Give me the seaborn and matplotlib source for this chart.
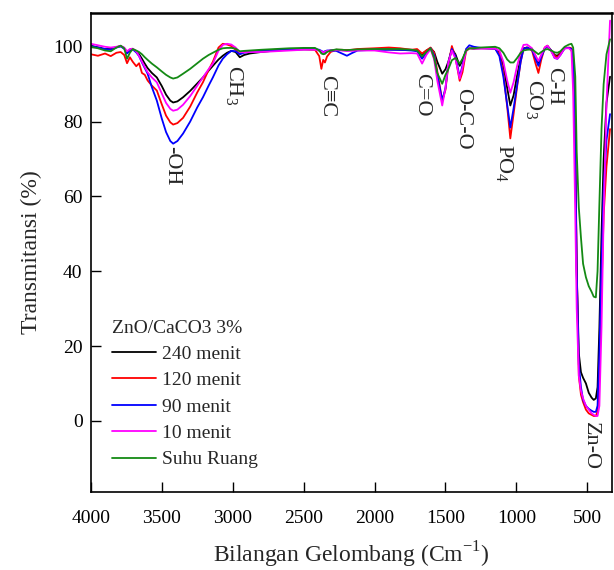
import numpy as np
import pandas as pd
import seaborn as sns
import matplotlib.pyplot as plt

# wavenumber points (cm-1)
wn = [4000, 3950, 3900, 3860, 3820, 3790, 3765, 3745, 3725, 3705, 3680, 3660,
      3640, 3620, 3600, 3570, 3535, 3500, 3470, 3440, 3420, 3390, 3350, 3300,
      3250, 3210, 3170, 3140, 3100, 3070, 3040, 3010, 2980, 2950, 2920, 2880,
      2800, 2700, 2600, 2500, 2420, 2390, 2375, 2362, 2350, 2335, 2310, 2270,
      2230, 2195, 2160, 2120, 2000, 1900, 1820, 1740, 1700, 1665, 1635, 1605,
      1580, 1558, 1523, 1500, 1480, 1455, 1430, 1400, 1380, 1355, 1332, 1300,
      1250, 1150, 1120, 1092, 1065, 1043, 1020, 995, 970, 950, 925, 890,
      865, 845, 825, 800, 782, 755, 730, 711, 690, 660, 630, 612,
      600, 585, 575, 560, 545, 530, 510, 490, 470, 455, 440, 428,
      415, 400, 385, 365, 340]

t_240 = [100.3, 99.8, 99.4, 99.4, 99.9, 100.2, 99.6, 98.5, 99.2, 99.4, 98.8, 98.0,
         96.8, 95.5, 94.3, 93.0, 91.8, 89.5, 87.2, 85.6, 85.1, 85.4, 86.5, 88.2,
         90.2, 91.8, 93.6, 94.9, 96.6, 97.6, 98.4, 98.9, 98.6, 97.2, 97.8, 98.2,
         98.6, 99.0, 99.2, 99.3, 99.3, 99.0, 98.6, 98.4, 98.6, 98.8, 99.0, 99.2,
         99.1, 99.0, 99.1, 99.2, 99.3, 99.3, 99.2, 99.2, 99.0, 98.0, 99.0, 99.6,
         98.6, 96.0, 92.8, 94.0, 96.0, 99.4, 98.0, 94.9, 96.4, 99.0, 99.6, 99.5,
         99.6, 99.5, 98.5, 95.0, 89.0, 84.3, 87.0, 92.3, 97.0, 99.6, 99.8, 99.2,
         97.5, 95.7, 97.6, 99.6, 100.2, 99.0, 97.8, 97.6, 98.4, 99.6, 99.7, 99.4,
         96.0, 70.0, 40.0, 18.0, 13.0, 11.5, 10.0, 7.5, 6.2, 5.6, 6.0, 9.0,
         25.0, 50.0, 70.0, 85.0, 92.0]

t_120 = [98.0, 97.6, 98.2, 97.5, 98.4, 98.6, 97.8, 95.6, 97.2, 96.0, 94.8, 95.6,
         93.0, 92.5, 91.0, 89.6, 88.3, 84.6, 81.6, 79.8, 79.2, 79.6, 81.0, 84.0,
         87.8, 90.5, 93.8, 96.0, 99.8, 100.8, 100.6, 100.2, 99.2, 98.4, 98.6, 98.8,
         99.0, 99.2, 99.4, 99.4, 99.2, 97.5, 94.1, 96.5, 95.8, 97.4, 98.6, 99.2,
         99.2, 99.1, 99.2, 99.4, 99.6, 99.8, 99.6, 99.2, 99.4, 98.2, 99.0, 99.8,
         98.4, 93.5, 85.6, 88.5, 95.0, 100.2, 97.2, 90.9, 93.2, 98.8, 99.6, 99.6,
         99.7, 99.6, 98.0, 93.0, 84.0, 75.5, 82.0, 89.4, 96.0, 99.4, 99.8, 99.0,
         95.5, 93.0, 96.5, 99.8, 100.3, 99.0, 97.6, 97.2, 98.2, 99.6, 99.8, 99.6,
         98.0, 75.0, 42.0, 12.0, 7.0, 5.0, 3.0, 2.0, 1.6, 1.3, 1.3, 2.5,
         12.0, 35.0, 55.0, 68.0, 78.0]

t_90 = [100.2, 99.8, 99.4, 99.2, 99.8, 100.1, 99.5, 98.2, 99.0, 99.3, 98.5, 97.5,
        95.8, 94.3, 92.8, 89.2, 85.6, 80.8, 77.2, 74.8, 74.1, 74.8, 76.8, 80.0,
        83.8, 86.5, 89.6, 91.8, 95.0, 96.8, 98.0, 98.9, 98.8, 98.0, 98.4, 98.6,
        98.9, 99.1, 99.3, 99.4, 99.4, 99.2, 98.9, 98.6, 98.8, 99.0, 99.0, 98.9,
        98.2, 97.6, 98.3, 99.0, 99.2, 99.2, 99.2, 99.0, 98.8, 96.8, 98.4, 99.6,
        97.6, 92.5, 85.6, 89.0, 95.6, 99.4, 97.4, 92.0, 95.0, 99.4, 100.4, 100.0,
        99.7, 99.5, 97.5, 92.0, 84.5, 78.4, 83.5, 89.8, 96.0, 99.4, 99.8, 99.2,
        96.8, 94.9, 97.2, 99.5, 100.2, 99.0, 97.0, 96.8, 97.8, 99.6, 99.7, 99.4,
        97.0, 72.0, 40.0, 15.0, 9.0, 5.6, 4.0, 3.2, 2.7, 2.4, 2.4, 4.0,
        18.0, 42.0, 62.0, 75.0, 82.0]

t_10 = [100.8, 100.4, 100.0, 99.8, 100.0, 100.2, 99.8, 98.8, 99.4, 99.5, 98.8, 97.5,
        96.0, 94.6, 93.2, 91.8, 90.5, 87.5, 85.0, 83.4, 82.9, 83.2, 84.5, 86.8,
        89.6, 91.8, 94.0, 95.5, 99.0, 100.5, 100.8, 100.6, 99.8, 98.6, 98.5, 98.6,
        98.6, 98.8, 99.0, 99.2, 99.2, 99.0, 98.8, 98.5, 98.7, 98.9, 99.0, 99.1,
        99.0, 98.9, 98.9, 99.0, 99.0, 98.5, 98.2, 98.3, 98.2, 95.5, 97.8, 99.4,
        96.6, 91.0, 84.3, 89.0, 95.8, 99.0, 96.8, 91.5, 94.5, 99.0, 99.7, 99.5,
        99.5, 99.5, 99.0, 96.0, 91.0, 87.7, 90.5, 94.9, 98.5, 100.5, 100.6, 99.6,
        97.6, 96.2, 97.8, 99.8, 100.3, 98.8, 97.0, 96.8, 97.8, 99.6, 99.6, 99.0,
        88.0, 55.0, 30.0, 12.0, 8.0, 6.0, 4.0, 3.0, 2.0, 1.6, 1.3, 1.3,
        4.0, 25.0, 55.0, 85.0, 107.0]

t_rt = [100.0, 99.6, 99.0, 98.8, 99.8, 100.3, 99.6, 96.8, 98.4, 99.4, 99.0, 98.6,
        98.0, 97.2, 96.5, 95.5, 94.5, 93.4, 92.5, 91.8, 91.5, 91.8, 92.8, 94.1,
        95.6, 96.8, 97.8, 98.4, 99.2, 99.6, 99.7, 99.7, 99.5, 98.8, 98.9, 99.0,
        99.2, 99.4, 99.6, 99.7, 99.7, 99.0, 98.2, 98.0, 98.1, 98.6, 99.0, 99.3,
        99.2, 99.1, 99.2, 99.3, 99.4, 99.4, 99.4, 99.2, 99.0, 97.4, 98.6, 99.6,
        97.0, 93.0, 90.1, 92.5, 94.0, 96.4, 97.0, 95.5, 96.8, 99.0, 99.6, 99.6,
        99.8, 100.0, 99.6, 98.4, 96.6, 95.8, 95.8, 97.0, 98.4, 99.0, 99.2, 99.3,
        98.6, 98.0, 98.6, 99.2, 99.4, 99.0, 98.5, 98.4, 98.8, 100.0, 100.6, 100.8,
        99.8, 92.0, 72.0, 57.0, 49.0, 42.0, 38.4, 36.0, 34.5, 33.2, 33.0, 40.0,
        58.0, 78.0, 90.0, 98.0, 102.0]

series = ["240 menit", "120 menit", "90 menit", "10 menit", "Suhu Ruang"]
colors = ["black", "#ff0000", "#0000ff", "#ff00ff", "#148a14"]

df = pd.DataFrame({"wn": wn * 5,
                   "T": t_240 + t_120 + t_90 + t_10 + t_rt,
                   "sampel": np.repeat(series, len(wn))})

sns.set_style("ticks")
plt.rcParams["font.family"] = ["Liberation Serif", "DejaVu Serif"]
plt.rcParams["mathtext.fontset"] = "custom"
plt.rcParams["mathtext.rm"] = "Liberation Serif"

fig = plt.figure(figsize=(6.14, 5.70), dpi=100)
ax = fig.add_axes([0.148, 0.137, 0.849, 0.840])

sns.lineplot(data=df, x="wn", y="T", hue="sampel", hue_order=series,
             palette=dict(zip(series, colors)), sort=False, estimator=None,
             linewidth=1.3, ax=ax)

ax.set_xlim(4000, 325)
ax.set_ylim(-19, 109)
ax.set_xticks([4000, 3500, 3000, 2500, 2000, 1500, 1000, 500])
ax.set_yticks([0, 20, 40, 60, 80, 100])
ax.tick_params(direction="in", length=7, width=1, labelsize=14, colors="black")
ax.tick_params(axis="x", pad=13)
ax.tick_params(axis="y", pad=6)
for s in ax.spines.values():
    s.set_linewidth(1.2)
    s.set_color("black")
ax.spines["top"].set_linewidth(1.8)

ax.set_xlabel(r"Bilangan Gelombang (Cm$^{\mathregular{-1}}$)", fontsize=17, labelpad=9)
ax.set_ylabel("Transmitansi (%)", fontsize=17, labelpad=8)

labels = [("-OH", 3430, 73.5), (r"CH$_{\mathregular{3}}$", 2990, 95.0),
          ("C≡C", 2335, 92.5), ("C=O", 1665, 93.0), ("O-C-O", 1378, 89.0),
          (r"PO$_{\mathregular{4}}$", 1090, 74.0), (r"CO$_{\mathregular{3}}$", 880, 91.5),
          ("C-H", 740, 94.5), ("Zn-O", 478, -0.3)]
for txt, x, y in labels:
    ax.text(x, y, txt, rotation=-90, ha="center", va="top", fontsize=16)

leg = ax.legend(title="ZnO/CaCO3 3%", loc="upper left", bbox_to_anchor=(0.04, 0.36),
                frameon=False, fontsize=14, title_fontsize=14, handlelength=2.3,
                handletextpad=0.3, labelspacing=0.45, borderpad=0, borderaxespad=0,
                alignment="left")

fig.savefig("out.png", dpi=100)
